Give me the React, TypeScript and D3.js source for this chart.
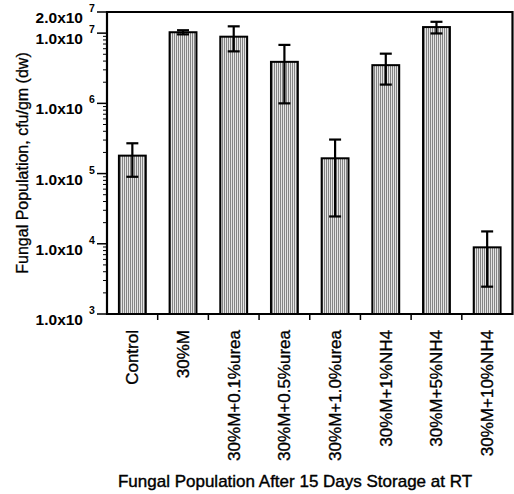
import React from "react";
import * as d3 from "d3";

// values (cfu/gm dw)
const categories = [
  "Control",
  "30%M",
  "30%M+0.1%urea",
  "30%M+0.5%urea",
  "30%M+1.0%urea",
  "30%M+1%NH4",
  "30%M+5%NH4",
  "30%M+10%NH4",
];
const means = [1.8e5, 1.03e7, 8.9e6, 3.9e6, 1.65e5, 3.5e6, 1.22e7, 8.9e3];
const errHigh = [2.7e5, 1.1e7, 1.25e7, 6.8e6, 3.05e5, 5.1e6, 1.45e7, 1.5e4];
const errLow = [9.0e4, 9.6e6, 5.5e6, 1.0e6, 2.45e4, 1.85e6, 9.9e6, 2.45e3];
const yTicks = [1e3, 1e4, 1e5, 1e6, 1e7, 2e7];
const yTickMantissa = ["1.0", "1.0", "1.0", "1.0", "1.0", "2.0"];

const W = 514;
const H = 494;
const left = 107;
const right = 512.5;
const top = 12;
const bottom = 314;
const font = "'Liberation Sans', Arial, sans-serif";

export default function App() {
  const x = d3
    .scaleBand<string>()
    .domain(categories)
    .range([left, right])
    .paddingInner(0.47)
    .paddingOuter(0.235);
  const y = d3.scaleLog().domain([1e3, 2e7]).range([bottom, top]);

  const step = x.step();
  const bw = x.bandwidth();

  // minor ticks 2..9 per decade
  const minor: number[] = [];
  for (let e = 3; e < 7; e++) {
    for (let m = 2; m <= 9; m++) minor.push(m * Math.pow(10, e));
  }

  return (
    <svg
      width={W}
      height={H}
      style={{ position: "absolute", left: 0, top: 0, background: "#fff" }}
      fontFamily={font}
    >
      <defs>
        <pattern id="stripes" width={2} height={4} patternUnits="userSpaceOnUse">
          <rect width={2} height={4} fill="#e4e4e4" />
          <rect width={1} height={4} fill="#858585" />
        </pattern>
      </defs>

      {/* bars */}
      {categories.map((c, i) => (
        <rect
          key={c}
          x={x(c)}
          y={y(means[i])}
          width={bw}
          height={bottom - y(means[i])}
          fill="url(#stripes)"
          stroke="#000"
          strokeWidth={2}
        />
      ))}

      {/* error bars */}
      {categories.map((c, i) => {
        const cx = (x(c) as number) + bw / 2;
        const capW = 6;
        return (
          <g key={"e" + c} stroke="#000" strokeWidth={2.2}>
            <line x1={cx} x2={cx} y1={y(errHigh[i])} y2={y(errLow[i])} />
            <line x1={cx - capW} x2={cx + capW} y1={y(errHigh[i])} y2={y(errHigh[i])} />
            <line x1={cx - capW} x2={cx + capW} y1={y(errLow[i])} y2={y(errLow[i])} />
          </g>
        );
      })}

      {/* frame */}
      <path
        d={`M${left},${top}H${right}V${bottom}H${left}Z`}
        fill="none"
        stroke="#000"
        strokeWidth={2.2}
      />

      {/* y minor ticks */}
      {minor.map((v) => (
        <line key={"m" + v} x1={left - 4} x2={left} y1={y(v)} y2={y(v)} stroke="#000" strokeWidth={1} />
      ))}

      {/* y major ticks and labels */}
      {yTicks.map((v, i) => {
        const ty = y(v);
        const exp = Math.floor(Math.log10(v));
        return (
          <g key={"t" + v}>
            <line x1={left - 10} x2={left} y1={ty} y2={ty} stroke="#000" strokeWidth={1.5} />
            <text
              x={83}
              y={ty + 11}
              textAnchor="end"
              fontSize={15.5}
              fontWeight="bold"
              fill="#000"
            >
              {yTickMantissa[i]}x10
            </text>
            <text x={89} y={ty} fontSize={10.5} fontWeight="bold" fill="#000">
              {exp}
            </text>
          </g>
        );
      })}

      {/* x ticks at category boundaries */}
      {categories.slice(1).map((c) => {
        const bx = (x(c) as number) - (step - bw) / 2;
        return <line key={"xt" + c} x1={bx} x2={bx} y1={bottom} y2={bottom + 6} stroke="#000" strokeWidth={1.5} />;
      })}

      {/* x labels */}
      {categories.map((c) => {
        const cx = (x(c) as number) + bw / 2;
        return (
          <text
            key={"xl" + c}
            transform={`translate(${cx + 6},330) rotate(-90)`}
            textAnchor="end"
            fontSize={17}
            fill="#000"
            stroke="#000"
            strokeWidth={0.35}
          >
            {c}
          </text>
        );
      })}

      {/* axis titles */}
      <text
        transform={`translate(28,${(top + bottom) / 2}) rotate(-90)`}
        textAnchor="middle"
        fontSize={16}
        fill="#000"
        stroke="#000"
        strokeWidth={0.3}
      >
        Fungal Population, cfu/gm (dw)
      </text>
      <text
        x={295}
        y={487}
        textAnchor="middle"
        fontSize={17}
        fill="#000"
        stroke="#000"
        strokeWidth={0.4}
      >
        Fungal Population After 15 Days Storage at RT
      </text>
    </svg>
  );
}
